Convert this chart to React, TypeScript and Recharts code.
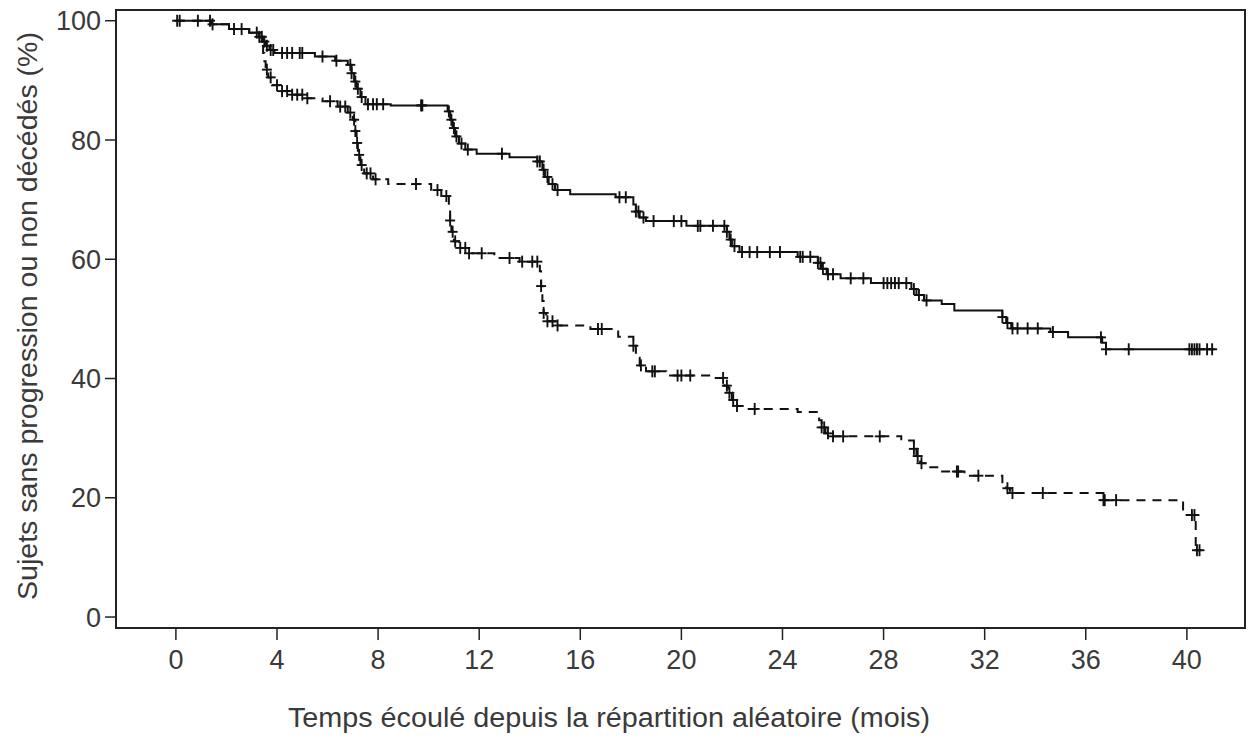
import React from "react"
import { ComposedChart, Line, Scatter, XAxis, YAxis, ReferenceArea } from "recharts"

// survival curve, solid arm: [month, % without progression or death]
const solidTimes = [0, 1.4, 2.1, 2.9, 3.3, 3.45, 3.55, 3.7, 3.9, 5.5, 6.3, 6.8, 6.95, 7.05, 7.15, 7.3, 7.5, 8.5, 10.75, 10.85, 10.95, 11.05, 11.2, 11.45, 11.9, 13.2, 14.3, 14.5, 14.6, 14.75, 15.0, 15.6, 17.4, 18.1, 18.2, 18.35, 18.6, 20.2, 21.8, 21.9, 22.0, 22.3, 24.6, 25.4, 25.55, 25.75, 26.3, 27.5, 29.1, 29.3, 29.6, 30.3, 30.8, 32.7, 32.85, 33.05, 34.6, 35.3, 36.65, 36.8, 41.1]
const solidSurv = [100, 99.4, 98.6, 98.0, 97.3, 96.5, 95.8, 95.1, 94.6, 94.0, 93.3, 92.6, 91.2, 89.8, 88.6, 87.2, 86.0, 85.8, 84.8, 83.4, 82.0, 80.6, 79.4, 78.4, 77.7, 77.1, 76.4, 75.0, 73.8, 72.6, 71.6, 70.9, 70.4, 69.2, 68.0, 67.0, 66.4, 65.6, 64.6, 63.3, 62.2, 61.2, 60.4, 59.4, 58.4, 57.5, 56.8, 56.0, 55.0, 54.0, 53.1, 52.5, 51.4, 50.3, 49.3, 48.4, 47.8, 46.9, 46.0, 44.9, 44.9]

// survival curve, dashed arm
const dashedTimes = [0, 1.4, 2.1, 2.9, 3.3, 3.4, 3.45, 3.5, 3.55, 3.65, 3.8, 4.1, 4.6, 5.2, 5.8, 6.4, 6.8, 7.0, 7.1, 7.15, 7.2, 7.3, 7.45, 7.8, 8.4, 10.1, 10.5, 10.8, 10.85, 10.9, 11.0, 11.2, 11.6, 12.6, 13.6, 14.4, 14.45, 14.5, 14.55, 14.65, 15.0, 16.4, 17.5, 18.1, 18.2, 18.35, 18.6, 19.4, 21.1, 21.7, 21.85, 22.0, 22.2, 22.6, 24.6, 25.45, 25.55, 25.7, 25.9, 28.7, 29.2, 29.3, 29.45, 29.7, 30.2, 31.2, 32.7, 32.85, 33.0, 36.7, 39.85, 40.35, 40.5]
const dashedSurv = [100, 99.4, 98.6, 98.0, 97.2, 96.0, 94.6, 93.2, 91.8, 90.5, 89.2, 88.2, 87.6, 87.0, 86.5, 85.6, 84.6, 83.4, 81.5, 79.5, 77.5, 75.8, 74.4, 73.4, 72.6, 71.6, 70.6, 68.6, 66.5, 64.6, 63.0, 61.9, 61.0, 60.2, 59.6, 58.0, 55.5, 53.0, 51.0, 49.6, 48.9, 48.3, 47.0, 45.5, 43.5, 42.2, 41.2, 40.5, 40.1, 38.8, 37.6, 36.4, 35.4, 34.9, 34.4, 33.0, 31.8, 30.8, 30.3, 29.6, 28.2, 27.0, 25.8, 25.1, 24.4, 23.7, 22.6, 21.6, 20.8, 19.6, 17.1, 11.2, 11.2]

// censoring times (months)
const solidCensor = [0.05, 0.15, 0.87, 1.35, 1.45, 2.3, 2.6, 3.2, 3.3, 3.4, 3.5, 3.6, 3.75, 3.85, 4.2, 4.4, 4.6, 4.9, 5.0, 5.8, 6.35, 6.9, 6.95, 7.1, 7.2, 7.35, 7.6, 7.8, 7.95, 8.2, 9.7, 9.75, 10.8, 10.9, 11.0, 11.1, 11.3, 11.55, 12.9, 14.3, 14.4, 14.55, 14.7, 14.9, 15.1, 17.55, 17.8, 18.2, 18.3, 18.5, 18.9, 19.7, 20.0, 20.65, 20.75, 21.25, 21.7, 21.8, 21.95, 22.1, 22.4, 22.7, 23.0, 23.5, 23.9, 24.7, 24.8, 25.1, 25.4, 25.5, 25.6, 25.8, 26.0, 26.7, 27.2, 28.0, 28.15, 28.3, 28.45, 28.6, 28.9, 29.2, 29.4, 29.7, 32.7, 32.9, 33.1, 33.3, 33.7, 34.1, 34.7, 36.6, 36.8, 37.7, 40.1, 40.2, 40.3, 40.4, 40.5, 40.8, 41.0]
const dashedCensor = [3.6, 3.75, 4.0, 4.2, 4.4, 4.6, 4.8, 5.0, 5.2, 6.1, 6.5, 6.7, 6.9, 7.05, 7.1, 7.17, 7.25, 7.35, 7.55, 7.7, 7.9, 9.5, 10.35, 10.7, 10.85, 10.95, 11.05, 11.25, 11.45, 11.6, 12.1, 13.2, 13.7, 14.1, 14.3, 14.45, 14.55, 14.7, 14.9, 15.1, 16.7, 16.85, 18.1, 18.4, 18.85, 18.95, 19.85, 20.0, 20.35, 21.65, 21.8, 21.9, 22.05, 22.2, 22.9, 25.55, 25.65, 25.8, 26.0, 26.4, 27.85, 29.2, 29.35, 29.5, 30.9, 30.95, 31.75, 32.9, 33.1, 34.3, 36.7, 36.75, 37.2, 40.2, 40.3, 40.4, 40.5]

const xTicks = [0, 4, 8, 12, 16, 20, 24, 28, 32, 36, 40]
const yTicks = [0, 20, 40, 60, 80, 100]

const X_DOMAIN: [number, number] = [-2.37, 42.3]
const Y_DOMAIN: [number, number] = [-1.84, 101.8]
const FONT = "'Liberation Sans', Arial, Helvetica, sans-serif"
const TEXT = "#3a3a3a"

const toCurve = (times: number[], surv: number[]) => times.map((t, i) => ({ t, s: surv[i] }))

// value of a step curve at time t
const survAt = (times: number[], surv: number[], t: number) => {
  let v = surv[0]
  for (let i = 0; i < times.length; i++) {
    if (times[i] <= t) v = surv[i]
  }
  return v
}

const toCensor = (cens: number[], times: number[], surv: number[]) =>
  cens.map((t) => ({ t, s: survAt(times, surv, t) }))

const solidCurve = toCurve(solidTimes, solidSurv)
const dashedCurve = toCurve(dashedTimes, dashedSurv)
const solidMarks = toCensor(solidCensor, solidTimes, solidSurv)
const dashedMarks = toCensor(dashedCensor, dashedTimes, dashedSurv)

const PlusMark = (props: any) => {
  const { cx, cy } = props
  if (cx == null || cy == null) return null
  return (
    <g stroke="#111" strokeWidth={1.9}>
      <line x1={cx - 5} y1={cy} x2={cx + 5} y2={cy} />
      <line x1={cx} y1={cy - 6} x2={cx} y2={cy + 6} />
    </g>
  )
}

const App: React.FC = () => {
  return (
    <div style={{ position: "absolute", left: 0, top: 0, width: 1257, height: 740, background: "#fff" }}>
      <ComposedChart width={1257} height={740} margin={{ top: 10, right: 12, left: 0, bottom: 52 }}>
        <XAxis
          type="number"
          dataKey="t"
          domain={X_DOMAIN}
          ticks={xTicks}
          allowDataOverflow
          axisLine={{ stroke: "#222", strokeWidth: 2 }}
          tickLine={{ stroke: "#222", strokeWidth: 1.5 }}
          tickSize={12}
          tickMargin={10}
          height={60}
          tick={{ fill: TEXT, fontSize: 27, fontFamily: FONT }}
        />
        <YAxis
          type="number"
          dataKey="s"
          domain={Y_DOMAIN}
          ticks={yTicks}
          allowDataOverflow
          width={116}
          axisLine={{ stroke: "#222", strokeWidth: 2 }}
          tickLine={{ stroke: "#222", strokeWidth: 1.5 }}
          tickSize={11}
          tickMargin={4}
          tick={{ fill: TEXT, fontSize: 27, fontFamily: FONT }}
        />
        <ReferenceArea
          x1={X_DOMAIN[0]}
          x2={X_DOMAIN[1]}
          y1={Y_DOMAIN[0]}
          y2={Y_DOMAIN[1]}
          fill="none"
          stroke="#222"
          strokeWidth={2}
        />
        <Line
          data={solidCurve}
          dataKey="s"
          type="stepAfter"
          stroke="#111"
          strokeWidth={2}
          dot={false}
          activeDot={false}
          isAnimationActive={false}
        />
        <Line
          data={dashedCurve}
          dataKey="s"
          type="stepAfter"
          stroke="#111"
          strokeWidth={2}
          strokeDasharray="9 7"
          dot={false}
          activeDot={false}
          isAnimationActive={false}
        />
        <Scatter data={solidMarks} dataKey="s" shape={PlusMark} isAnimationActive={false} />
        <Scatter data={dashedMarks} dataKey="s" shape={PlusMark} isAnimationActive={false} />
        <text
          x={609}
          y={727}
          textAnchor="middle"
          fill={TEXT}
          fontSize={27}
          fontFamily={FONT}
          textLength={642}
          lengthAdjust="spacingAndGlyphs"
        >
          Temps écoulé depuis la répartition aléatoire (mois)
        </text>
        <text
          x={0}
          y={0}
          transform="translate(37,316) rotate(-90)"
          textAnchor="middle"
          fill={TEXT}
          fontSize={27}
          fontFamily={FONT}
          textLength={568}
          lengthAdjust="spacingAndGlyphs"
        >
          Sujets sans progression ou non décédés (%)
        </text>
      </ComposedChart>
    </div>
  )
}

export default App
